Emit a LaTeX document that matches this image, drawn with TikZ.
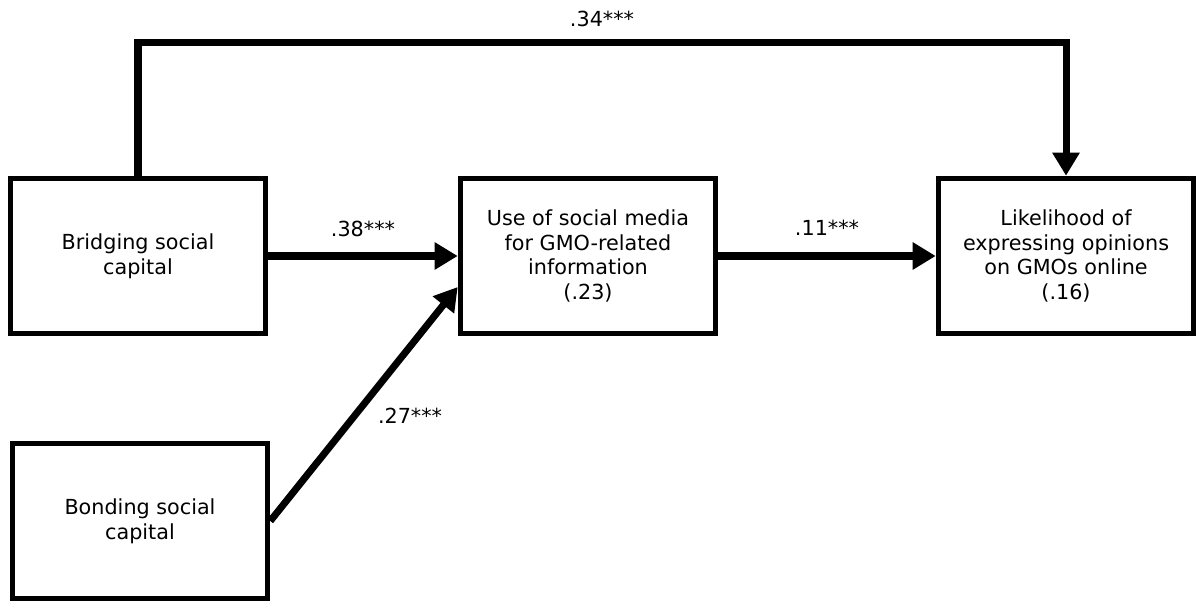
\documentclass[tikz,border=0pt]{standalone}
\usepackage{fontspec}
\setmainfont{DejaVu Sans}
\usetikzlibrary{positioning,calc,arrows.meta}

\begin{document}
\begin{tikzpicture}[x=0.02cm, y=-0.02cm,
    box/.style={rectangle, draw, line width=3.2pt, minimum width=5.1cm, minimum height=3.1cm, align=center, font=\fontsize{11.8}{14.2}\selectfont},
    link/.style={line width=4pt, -{Triangle[length=0.46cm, width=0.52cm]}},
    coef/.style={font=\fontsize{11.8}{14}\selectfont}]
    \useasboundingbox (0,0) rectangle (1196,604);

    % Boxes
    \node[box] (bridge) at (138,256) {Bridging social\\capital};
    \node[box] (bond) at (140,521) {Bonding social\\capital};
    \node[box] (use) at (588,256) {Use of social media\\for GMO-related\\information\\(.23)};
    \node[box] (like) at (1066,256) {Likelihood of\\expressing opinions\\on GMOs online\\(.16)};

    % Paths
    \draw[link] (bridge.north) -- ++(0,-133) -| node[coef, pos=0.25, above=0.14cm] (ctop) {.34***} (like.north);
    \draw[link] (bridge) -- node[coef, above=0.2cm] (cbridge) {.38***} (use);
    \draw[link] (use) -- node[coef, above=0.22cm] (cuse) {.11***} (like);
    \draw[link] (bond.east) -- node[coef, pos=0.45, right=0.28cm] (cbond) {.27***} ([yshift=-0.62cm]use.west);
\end{tikzpicture}
\end{document}
